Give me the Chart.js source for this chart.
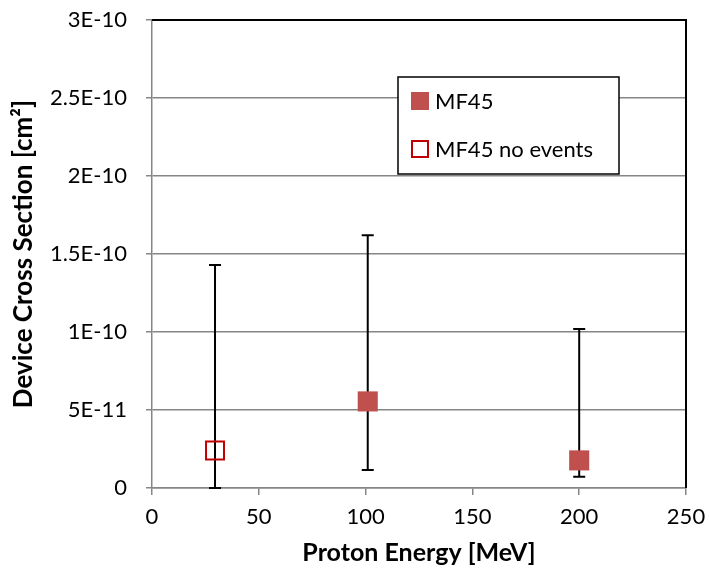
<!DOCTYPE html>
<html><head><meta charset="utf-8">
<script src="https://cdn.jsdelivr.net/npm/chart.js@4/dist/chart.umd.min.js"></script>
<style>html,body{margin:0;padding:0;background:#fff;}#wrap{width:710px;height:573px;}</style>
</head><body><div id="wrap"><canvas id="c" width="710" height="573"></canvas></div>
<script>
const xLabelTitle = "Proton Energy [MeV]";
const yLabelTitle = "Device Cross Section [cm²]";
const xTicks = [0, 50, 100, 150, 200, 250];
const yTickLabels = ["0", "5E-11", "1E-10", "1.5E-10", "2E-10", "2.5E-10", "3E-10"];
const yStep = 5e-11;

const mfEnergy = [101, 200];
const mfValue = [5.55e-11, 1.77e-11];
const mfLow = [1.15e-11, 0.72e-11];
const mfHigh = [1.62e-10, 1.02e-10];

const noEnergy = [29.5];
const noValue = [2.4e-11];
const noLow = [0];
const noHigh = [1.43e-10];

const seriesNames = ["MF45", "MF45 no events"];

const FONT = "Lato, 'Open Sans', sans-serif";

function pts(xs, ys, lo, hi) { return xs.map((x, i) => ({x: x, y: ys[i], lo: lo[i], hi: hi[i]})); }

const errorBars = {
  id: 'errorBars',
  beforeDatasetsDraw(chart) {
    const ctx = chart.ctx, xs = chart.scales.x, ys = chart.scales.y;
    ctx.save();
    ctx.strokeStyle = '#000'; ctx.lineWidth = 2;
    chart.data.datasets.forEach(ds => {
      ds.data.forEach(p => {
        const px = xs.getPixelForValue(p.x);
        const yl = ys.getPixelForValue(p.lo), yh = ys.getPixelForValue(p.hi);
        ctx.beginPath();
        ctx.moveTo(px, yl); ctx.lineTo(px, yh);
        ctx.moveTo(px - 6, yl); ctx.lineTo(px + 6, yl);
        ctx.moveTo(px - 6, yh); ctx.lineTo(px + 6, yh);
        ctx.stroke();
      });
    });
    ctx.restore();
  },
  afterDraw(chart) {
    const ctx = chart.ctx, a = chart.chartArea;
    ctx.save();
    ctx.strokeStyle = '#000'; ctx.lineWidth = 2;
    ctx.beginPath();
    ctx.moveTo(a.left, a.top); ctx.lineTo(a.right, a.top); ctx.lineTo(a.right, a.bottom);
    ctx.stroke();
    // legend
    const lx = 398, ly = 77, lw = 221, lh = 97;
    ctx.fillStyle = '#fff';
    ctx.fillRect(lx, ly, lw, lh);
    ctx.lineWidth = 1.5; ctx.strokeStyle = '#000';
    ctx.strokeRect(lx, ly, lw, lh);
    ctx.fillStyle = '#C0504D';
    ctx.fillRect(411, 92, 18, 18);
    ctx.strokeStyle = '#C00000'; ctx.lineWidth = 2;
    ctx.strokeRect(412, 141, 16, 16);
    ctx.fillStyle = '#000';
    ctx.font = "22px " + FONT;
    ctx.textBaseline = 'middle'; ctx.textAlign = 'left';
    ctx.fillText(seriesNames[0], 435, 102);
    ctx.fillText(seriesNames[1], 435, 150);
    ctx.restore();
  }
};

new Chart(document.getElementById('c'), {
  type: 'scatter',
  data: {
    datasets: [
      {label: seriesNames[0], data: pts(mfEnergy, mfValue, mfLow, mfHigh), pointStyle: 'rect', pointRadius: 14.2, pointHoverRadius: 14.2, backgroundColor: '#C0504D', borderColor: '#C0504D', borderWidth: 0},
      {label: seriesNames[1], data: pts(noEnergy, noValue, noLow, noHigh), pointStyle: 'rect', pointRadius: 12.7, pointHoverRadius: 12.7, backgroundColor: 'rgba(255,255,255,0)', borderColor: '#C00000', borderWidth: 2}
    ]
  },
  options: {
    responsive: false, animation: false,
    layout: {padding: {left: 0, top: 20, right: 24, bottom: 0}},
    plugins: {legend: {display: false}, tooltip: {enabled: false}},
    scales: {
      x: {
        type: 'linear', min: 0, max: 250,
        afterBuildTicks(s) { s.ticks = xTicks.map(v => ({value: v})); },
        afterFit(s) { s.height = 85; s.paddingLeft = 0; s.paddingRight = 0; },
        grid: {drawOnChartArea: false, drawTicks: true, tickLength: 7, color: '#868686', lineWidth: 1.5},
        border: {color: '#868686', width: 1.5},
        ticks: {color: '#000', font: {family: FONT, size: 22}, padding: 9, maxRotation: 0},
        title: {display: true, text: xLabelTitle, color: '#000', font: {family: FONT, size: 25, weight: 'bold'}, padding: {top: 0, bottom: 5}}
      },
      y: {
        type: 'linear', min: 0, max: 3e-10,
        afterBuildTicks(s) { s.ticks = yTickLabels.map((t, i) => ({value: i * yStep})); },
        afterFit(s) { s.width = 152; s.paddingTop = 0; s.paddingBottom = 0; },
        grid: {color: '#868686', lineWidth: 1.5, tickLength: 6},
        border: {color: '#868686', width: 1.5},
        ticks: {color: '#000', font: {family: FONT, size: 22}, padding: 19,
          callback: (v) => yTickLabels[Math.round(v / yStep)]},
        title: {display: true, text: yLabelTitle, color: '#000', font: {family: FONT, size: 26, weight: 'bold'}, padding: {top: 8, bottom: 0}}
      }
    }
  },
  plugins: [errorBars]
});
</script></body></html>
